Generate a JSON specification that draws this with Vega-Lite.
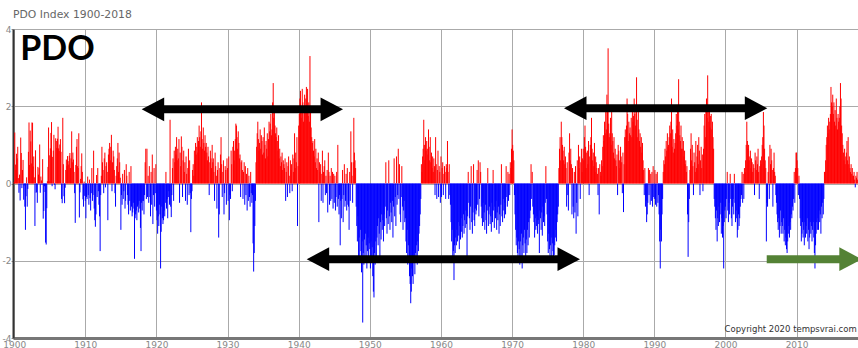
{
"$schema":"https://vega.github.io/schema/vega-lite/v6.json",
"width":845,"height":309,
"autosize":{"type":"none"},
"padding":{"left":13,"top":29,"right":0,"bottom":10},
"background":"white",
"title":{"text":"PDO Index 1900-2018","anchor":"start","frame":"group","fontSize":10.8,"font":"DejaVu Sans","fontWeight":"normal","color":"#666666","baseline":"alphabetic","offset":6,"dy":10},
"config":{"view":{"stroke":null},"font":"DejaVu Sans"},
"datasets":{"pdo":[
{"m":0,"v":0.04},{"m":1,"v":1.32},{"m":2,"v":0.49},{"m":3,"v":0.35},{"m":4,"v":0.77},{"m":5,"v":0.65},{"m":6,"v":0.95},{"m":7,"v":0.14},{"m":8,"v":-0.24},{"m":9,"v":0.23},{"m":10,"v":-0.44},{"m":11,"v":1.19},
{"m":12,"v":0.79},{"m":13,"v":-0.12},{"m":14,"v":0.35},{"m":15,"v":0.61},{"m":16,"v":-0.42},{"m":17,"v":-0.05},{"m":18,"v":-0.6},{"m":19,"v":-1.2},{"m":20,"v":-0.33},{"m":21,"v":0.16},{"m":22,"v":-0.6},{"m":23,"v":-0.14},
{"m":24,"v":0.82},{"m":25,"v":1.58},{"m":26,"v":0.48},{"m":27,"v":1.37},{"m":28,"v":1.09},{"m":29,"v":0.52},{"m":30,"v":1.58},{"m":31,"v":1.57},{"m":32,"v":0.44},{"m":33,"v":0.7},{"m":34,"v":0.16},{"m":35,"v":-1.1},
{"m":36,"v":0.86},{"m":37,"v":-0.24},{"m":38,"v":-0.22},{"m":39,"v":-0.5},{"m":40,"v":0.43},{"m":41,"v":0.23},{"m":42,"v":0.4},{"m":43,"v":1.01},{"m":44,"v":-0.24},{"m":45,"v":0.18},{"m":46,"v":0.08},{"m":47,"v":-0.03},
{"m":48,"v":0.63},{"m":49,"v":-0.91},{"m":50,"v":-0.71},{"m":51,"v":-0.07},{"m":52,"v":-0.22},{"m":53,"v":-1.53},{"m":54,"v":-1.58},{"m":55,"v":-0.64},{"m":56,"v":0.06},{"m":57,"v":0.43},{"m":58,"v":1.45},{"m":59,"v":0.06},
{"m":60,"v":0.73},{"m":61,"v":0.91},{"m":62,"v":1.31},{"m":63,"v":1.59},{"m":64,"v":-0.07},{"m":65,"v":0.69},{"m":66,"v":0.85},{"m":67,"v":1.26},{"m":68,"v":-0.03},{"m":69,"v":-0.15},{"m":70,"v":1.17},{"m":71,"v":1.1},
{"m":72,"v":0.92},{"m":73,"v":1.16},{"m":74,"v":1.47},{"m":75,"v":0.91},{"m":76,"v":0.84},{"m":77,"v":1.01},{"m":78,"v":1.15},{"m":79,"v":0.82},{"m":80,"v":-0.4},{"m":81,"v":-0.51},{"m":82,"v":1.7},{"m":83,"v":0.5},
{"m":84,"v":-0.33},{"m":85,"v":-0.51},{"m":86,"v":-0.11},{"m":87,"v":0.35},{"m":88,"v":0.62},{"m":89,"v":0.45},{"m":90,"v":0.71},{"m":91,"v":0.58},{"m":92,"v":0.49},{"m":93,"v":0.72},{"m":94,"v":0.79},{"m":95,"v":0.4},
{"m":96,"v":0.65},{"m":97,"v":1.35},{"m":98,"v":0.55},{"m":99,"v":0.8},{"m":100,"v":0.62},{"m":101,"v":0.3},{"m":102,"v":-0.25},{"m":103,"v":-1.02},{"m":104,"v":0.48},{"m":105,"v":0.95},{"m":106,"v":1.15},{"m":107,"v":0.45},
{"m":108,"v":0.4},{"m":109,"v":1.3},{"m":110,"v":-0.88},{"m":111,"v":-0.23},{"m":112,"v":0.12},{"m":113,"v":0.45},{"m":114,"v":0.78},{"m":115,"v":0.3},{"m":116,"v":-0.41},{"m":117,"v":-0.6},{"m":118,"v":0.05},{"m":119,"v":-0.32},
{"m":120,"v":-0.45},{"m":121,"v":-0.9},{"m":122,"v":-0.35},{"m":123,"v":-0.4},{"m":124,"v":0.18},{"m":125,"v":-0.3},{"m":126,"v":-0.55},{"m":127,"v":0.1},{"m":128,"v":-0.38},{"m":129,"v":-0.7},{"m":130,"v":-0.25},{"m":131,"v":0.4},
{"m":132,"v":-0.45},{"m":133,"v":-0.3},{"m":134,"v":0.85},{"m":135,"v":-0.65},{"m":136,"v":-0.95},{"m":137,"v":-1.12},{"m":138,"v":-0.8},{"m":139,"v":0.22},{"m":140,"v":-0.35},{"m":141,"v":0.4},{"m":142,"v":-0.2},{"m":143,"v":-0.55},
{"m":144,"v":-0.85},{"m":145,"v":-1.75},{"m":146,"v":-0.3},{"m":147,"v":0.2},{"m":148,"v":0.95},{"m":149,"v":0.55},{"m":150,"v":0.35},{"m":151,"v":-0.25},{"m":152,"v":0.65},{"m":153,"v":0.8},{"m":154,"v":-0.1},{"m":155,"v":0.45},
{"m":156,"v":0.55},{"m":157,"v":0.3},{"m":158,"v":-0.95},{"m":159,"v":0.75},{"m":160,"v":0.9},{"m":161,"v":1.05},{"m":162,"v":0.6},{"m":163,"v":0.95},{"m":164,"v":1.26},{"m":165,"v":-0.2},{"m":166,"v":0.55},{"m":167,"v":0.85},
{"m":168,"v":0.7},{"m":169,"v":0.35},{"m":170,"v":-0.25},{"m":171,"v":-0.6},{"m":172,"v":0.2},{"m":173,"v":0.45},{"m":174,"v":0.65},{"m":175,"v":1.05},{"m":176,"v":0.3},{"m":177,"v":0.8},{"m":178,"v":0.55},{"m":179,"v":0.15},
{"m":180,"v":-1.2},{"m":181,"v":-0.3},{"m":182,"v":-0.55},{"m":183,"v":0.25},{"m":184,"v":-0.4},{"m":185,"v":-0.2},{"m":186,"v":0.35},{"m":187,"v":-0.65},{"m":188,"v":-0.45},{"m":189,"v":0.5},{"m":190,"v":0.2},{"m":191,"v":-0.3},
{"m":192,"v":-0.55},{"m":193,"v":-0.8},{"m":194,"v":0.3},{"m":195,"v":-0.45},{"m":196,"v":-0.7},{"m":197,"v":0.45},{"m":198,"v":-0.6},{"m":199,"v":-0.85},{"m":200,"v":-0.75},{"m":201,"v":-0.5},{"m":202,"v":-0.65},{"m":203,"v":-1.95},
{"m":204,"v":-0.9},{"m":205,"v":-0.8},{"m":206,"v":-0.7},{"m":207,"v":-0.95},{"m":208,"v":-0.6},{"m":209,"v":-0.55},{"m":210,"v":-0.75},{"m":211,"v":-0.45},{"m":212,"v":-0.65},{"m":213,"v":-1.15},{"m":214,"v":-1.75},{"m":215,"v":-0.5},
{"m":216,"v":-0.7},{"m":217,"v":-0.45},{"m":218,"v":-0.45},{"m":219,"v":-0.8},{"m":220,"v":-0.3},{"m":221,"v":0.55},{"m":222,"v":0.9},{"m":223,"v":-0.4},{"m":224,"v":0.9},{"m":225,"v":-0.35},{"m":226,"v":0.2},{"m":227,"v":-0.5},
{"m":228,"v":0.45},{"m":229,"v":-0.35},{"m":230,"v":-0.85},{"m":231,"v":0.3},{"m":232,"v":-0.55},{"m":233,"v":0.75},{"m":234,"v":-1.05},{"m":235,"v":-0.3},{"m":236,"v":0.4},{"m":237,"v":-0.6},{"m":238,"v":-0.25},{"m":239,"v":0.5},
{"m":240,"v":-0.7},{"m":241,"v":-0.95},{"m":242,"v":-1.3},{"m":243,"v":-0.85},{"m":244,"v":-1.1},{"m":245,"v":-0.55},{"m":246,"v":-0.8},{"m":247,"v":-2.2},{"m":248,"v":-1.25},{"m":249,"v":-0.6},{"m":250,"v":-0.9},{"m":251,"v":-1.05},
{"m":252,"v":-0.95},{"m":253,"v":-0.7},{"m":254,"v":-0.85},{"m":255,"v":-0.5},{"m":256,"v":0.3},{"m":257,"v":-0.65},{"m":258,"v":-0.4},{"m":259,"v":-0.9},{"m":260,"v":-0.35},{"m":261,"v":-0.2},{"m":262,"v":-0.55},{"m":263,"v":1.65},
{"m":264,"v":-0.6},{"m":265,"v":-0.87},{"m":266,"v":-0.3},{"m":267,"v":0.4},{"m":268,"v":0.65},{"m":269,"v":-0.45},{"m":270,"v":0.85},{"m":271,"v":0.55},{"m":272,"v":0.95},{"m":273,"v":0.75},{"m":274,"v":1.2},{"m":275,"v":0.6},
{"m":276,"v":0.9},{"m":277,"v":0.65},{"m":278,"v":1.15},{"m":279,"v":-0.5},{"m":280,"v":0.8},{"m":281,"v":0.45},{"m":282,"v":1.22},{"m":283,"v":0.95},{"m":284,"v":-0.35},{"m":285,"v":0.6},{"m":286,"v":0.85},{"m":287,"v":0.3},
{"m":288,"v":0.55},{"m":289,"v":-0.45},{"m":290,"v":0.7},{"m":291,"v":0.25},{"m":292,"v":-0.55},{"m":293,"v":0.4},{"m":294,"v":0.9},{"m":295,"v":-0.3},{"m":296,"v":0.6},{"m":297,"v":-0.25},{"m":298,"v":-1.26},{"m":299,"v":-0.4},
{"m":300,"v":-0.2},{"m":301,"v":0.35},{"m":302,"v":0.5},{"m":303,"v":0.2},{"m":304,"v":0.85},{"m":305,"v":0.6},{"m":306,"v":1.05},{"m":307,"v":0.75},{"m":308,"v":0.95},{"m":309,"v":1.2},{"m":310,"v":0.8},{"m":311,"v":1.1},
{"m":312,"v":1.5},{"m":313,"v":1.2},{"m":314,"v":0.95},{"m":315,"v":1.35},{"m":316,"v":2.1},{"m":317,"v":1.15},{"m":318,"v":0.9},{"m":319,"v":1.45},{"m":320,"v":1.05},{"m":321,"v":0.85},{"m":322,"v":1.25},{"m":323,"v":0.95},
{"m":324,"v":1.05},{"m":325,"v":0.8},{"m":326,"v":0.6},{"m":327,"v":0.95},{"m":328,"v":0.7},{"m":329,"v":-0.3},{"m":330,"v":0.55},{"m":331,"v":0.85},{"m":332,"v":0.65},{"m":333,"v":0.4},{"m":334,"v":1.0},{"m":335,"v":0.55},
{"m":336,"v":0.65},{"m":337,"v":0.3},{"m":338,"v":-0.45},{"m":339,"v":0.8},{"m":340,"v":0.45},{"m":341,"v":0.2},{"m":342,"v":-0.65},{"m":343,"v":0.35},{"m":344,"v":0.55},{"m":345,"v":-1.4},{"m":346,"v":-0.8},{"m":347,"v":0.4},
{"m":348,"v":0.75},{"m":349,"v":1.2},{"m":350,"v":0.5},{"m":351,"v":-0.35},{"m":352,"v":0.3},{"m":353,"v":0.6},{"m":354,"v":-0.8},{"m":355,"v":-0.25},{"m":356,"v":0.45},{"m":357,"v":0.35},{"m":358,"v":-0.55},{"m":359,"v":0.65},
{"m":360,"v":0.4},{"m":361,"v":-0.45},{"m":362,"v":0.7},{"m":363,"v":-0.95},{"m":364,"v":-0.3},{"m":365,"v":-0.4},{"m":366,"v":0.85},{"m":367,"v":0.5},{"m":368,"v":-0.2},{"m":369,"v":0.95},{"m":370,"v":1.1},{"m":371,"v":0.6},
{"m":372,"v":0.85},{"m":373,"v":1.15},{"m":374,"v":1.55},{"m":375,"v":1.5},{"m":376,"v":1.2},{"m":377,"v":0.9},{"m":378,"v":1.35},{"m":379,"v":1.05},{"m":380,"v":0.65},{"m":381,"v":0.75},{"m":382,"v":-0.35},{"m":383,"v":0.55},
{"m":384,"v":0.6},{"m":385,"v":0.35},{"m":386,"v":-0.4},{"m":387,"v":0.3},{"m":388,"v":0.55},{"m":389,"v":-0.55},{"m":390,"v":0.45},{"m":391,"v":-0.3},{"m":392,"v":0.25},{"m":393,"v":-0.7},{"m":394,"v":0.4},{"m":395,"v":-0.45},
{"m":396,"v":0.2},{"m":397,"v":-0.35},{"m":398,"v":-0.6},{"m":399,"v":0.3},{"m":400,"v":-0.25},{"m":401,"v":-0.5},{"m":402,"v":-0.3},{"m":403,"v":-1.55},{"m":404,"v":-2.28},{"m":405,"v":-1.8},{"m":406,"v":-1.1},{"m":407,"v":-0.45},
{"m":408,"v":0.55},{"m":409,"v":0.95},{"m":410,"v":1.3},{"m":411,"v":1.6},{"m":412,"v":1.15},{"m":413,"v":0.85},{"m":414,"v":1.05},{"m":415,"v":1.4},{"m":416,"v":0.9},{"m":417,"v":1.25},{"m":418,"v":1.1},{"m":419,"v":0.75},
{"m":420,"v":1.2},{"m":421,"v":0.8},{"m":422,"v":1.45},{"m":423,"v":1.0},{"m":424,"v":0.65},{"m":425,"v":1.1},{"m":426,"v":0.9},{"m":427,"v":1.3},{"m":428,"v":0.7},{"m":429,"v":1.15},{"m":430,"v":1.6},{"m":431,"v":1.35},
{"m":432,"v":1.55},{"m":433,"v":1.8},{"m":434,"v":1.25},{"m":435,"v":1.4},{"m":436,"v":2.1},{"m":437,"v":2.6},{"m":438,"v":1.7},{"m":439,"v":1.95},{"m":440,"v":1.5},{"m":441,"v":1.3},{"m":442,"v":1.2},{"m":443,"v":1.45},
{"m":444,"v":1.1},{"m":445,"v":0.85},{"m":446,"v":1.25},{"m":447,"v":0.65},{"m":448,"v":0.9},{"m":449,"v":0.45},{"m":450,"v":0.7},{"m":451,"v":0.55},{"m":452,"v":0.8},{"m":453,"v":0.35},{"m":454,"v":0.6},{"m":455,"v":0.5},
{"m":456,"v":0.4},{"m":457,"v":0.65},{"m":458,"v":-0.45},{"m":459,"v":0.3},{"m":460,"v":0.55},{"m":461,"v":-0.35},{"m":462,"v":0.45},{"m":463,"v":0.7},{"m":464,"v":0.2},{"m":465,"v":-0.25},{"m":466,"v":0.6},{"m":467,"v":0.35},
{"m":468,"v":0.5},{"m":469,"v":-0.2},{"m":470,"v":0.75},{"m":471,"v":0.3},{"m":472,"v":0.65},{"m":473,"v":1.3},{"m":474,"v":0.4},{"m":475,"v":0.8},{"m":476,"v":0.55},{"m":477,"v":1.2},{"m":478,"v":-1.1},{"m":479,"v":0.45},
{"m":480,"v":1.5},{"m":481,"v":1.8},{"m":482,"v":2.2},{"m":483,"v":2.4},{"m":484,"v":1.7},{"m":485,"v":1.95},{"m":486,"v":2.45},{"m":487,"v":2.1},{"m":488,"v":1.6},{"m":489,"v":1.85},{"m":490,"v":2.3},{"m":491,"v":2.0},
{"m":492,"v":2.2},{"m":493,"v":2.5},{"m":494,"v":1.9},{"m":495,"v":2.45},{"m":496,"v":1.75},{"m":497,"v":2.1},{"m":498,"v":1.6},{"m":499,"v":3.3},{"m":500,"v":2.0},{"m":501,"v":1.45},{"m":502,"v":1.2},{"m":503,"v":1.05},
{"m":504,"v":1.1},{"m":505,"v":0.85},{"m":506,"v":0.7},{"m":507,"v":1.15},{"m":508,"v":0.55},{"m":509,"v":0.9},{"m":510,"v":0.4},{"m":511,"v":0.65},{"m":512,"v":0.35},{"m":513,"v":0.8},{"m":514,"v":-1.0},{"m":515,"v":0.55},
{"m":516,"v":0.3},{"m":517,"v":0.5},{"m":518,"v":-0.45},{"m":519,"v":0.25},{"m":520,"v":0.85},{"m":521,"v":-0.5},{"m":522,"v":0.3},{"m":523,"v":0.45},{"m":524,"v":0.6},{"m":525,"v":-0.3},{"m":526,"v":0.2},{"m":527,"v":-0.25},
{"m":528,"v":0.35},{"m":529,"v":-0.75},{"m":530,"v":0.8},{"m":531,"v":0.3},{"m":532,"v":-0.55},{"m":533,"v":0.2},{"m":534,"v":-0.45},{"m":535,"v":0.4},{"m":536,"v":-0.4},{"m":537,"v":0.3},{"m":538,"v":-0.65},{"m":539,"v":0.25},
{"m":540,"v":-0.5},{"m":541,"v":0.2},{"m":542,"v":-0.7},{"m":543,"v":-0.35},{"m":544,"v":0.3},{"m":545,"v":-0.6},{"m":546,"v":1.0},{"m":547,"v":-0.4},{"m":548,"v":-0.8},{"m":549,"v":-0.3},{"m":550,"v":-1.6},{"m":551,"v":-0.45},
{"m":552,"v":-0.9},{"m":553,"v":-0.4},{"m":554,"v":0.35},{"m":555,"v":-1.0},{"m":556,"v":-0.3},{"m":557,"v":0.5},{"m":558,"v":-0.6},{"m":559,"v":-0.45},{"m":560,"v":0.25},{"m":561,"v":-0.7},{"m":562,"v":0.4},{"m":563,"v":-0.55},
{"m":564,"v":-0.6},{"m":565,"v":-1.2},{"m":566,"v":0.3},{"m":567,"v":-0.45},{"m":568,"v":1.35},{"m":569,"v":0.55},{"m":570,"v":0.2},{"m":571,"v":-0.5},{"m":572,"v":0.55},{"m":573,"v":1.7},{"m":574,"v":0.8},{"m":575,"v":0.6},
{"m":576,"v":0.4},{"m":577,"v":-0.6},{"m":578,"v":-1.1},{"m":579,"v":-1.5},{"m":580,"v":-0.85},{"m":581,"v":-1.95},{"m":582,"v":-1.4},{"m":583,"v":-2.05},{"m":584,"v":-1.2},{"m":585,"v":-1.75},{"m":586,"v":-2.3},{"m":587,"v":-1.5},
{"m":588,"v":-3.6},{"m":589,"v":-1.8},{"m":590,"v":-2.1},{"m":591,"v":-1.45},{"m":592,"v":-1.9},{"m":593,"v":-1.3},{"m":594,"v":-1.6},{"m":595,"v":-2.2},{"m":596,"v":-1.75},{"m":597,"v":-1.4},{"m":598,"v":-2.0},{"m":599,"v":-1.55},
{"m":600,"v":-1.7},{"m":601,"v":-2.2},{"m":602,"v":-1.5},{"m":603,"v":-2.0},{"m":604,"v":-1.65},{"m":605,"v":-2.4},{"m":606,"v":-2.8},{"m":607,"v":-2.95},{"m":608,"v":-1.8},{"m":609,"v":-2.1},{"m":610,"v":-1.5},{"m":611,"v":-1.9},
{"m":612,"v":-1.4},{"m":613,"v":-1.1},{"m":614,"v":-1.6},{"m":615,"v":-0.9},{"m":616,"v":-1.3},{"m":617,"v":-2.0},{"m":618,"v":-1.0},{"m":619,"v":-1.45},{"m":620,"v":-0.8},{"m":621,"v":-1.2},{"m":622,"v":-0.95},{"m":623,"v":-1.5},
{"m":624,"v":-0.8},{"m":625,"v":-1.1},{"m":626,"v":-0.6},{"m":627,"v":0.55},{"m":628,"v":-0.9},{"m":629,"v":-1.3},{"m":630,"v":-0.7},{"m":631,"v":-1.05},{"m":632,"v":0.6},{"m":633,"v":-0.85},{"m":634,"v":-1.2},{"m":635,"v":-0.5},
{"m":636,"v":-0.75},{"m":637,"v":-1.0},{"m":638,"v":-0.45},{"m":639,"v":-1.4},{"m":640,"v":-0.6},{"m":641,"v":0.65},{"m":642,"v":-0.85},{"m":643,"v":-0.35},{"m":644,"v":-1.1},{"m":645,"v":0.7},{"m":646,"v":-0.55},{"m":647,"v":-0.3},
{"m":648,"v":0.9},{"m":649,"v":-0.4},{"m":650,"v":0.5},{"m":651,"v":-0.8},{"m":652,"v":-1.0},{"m":653,"v":-0.35},{"m":654,"v":0.45},{"m":655,"v":-0.6},{"m":656,"v":-1.2},{"m":657,"v":-0.7},{"m":658,"v":-0.45},{"m":659,"v":-1.0},
{"m":660,"v":-0.9},{"m":661,"v":-1.5},{"m":662,"v":-1.8},{"m":663,"v":-1.2},{"m":664,"v":-2.1},{"m":665,"v":-1.6},{"m":666,"v":-1.9},{"m":667,"v":-2.4},{"m":668,"v":-2.6},{"m":669,"v":-3.1},{"m":670,"v":-2.8},{"m":671,"v":-2.2},
{"m":672,"v":-2.4},{"m":673,"v":-2.6},{"m":674,"v":-2.0},{"m":675,"v":-1.9},{"m":676,"v":-2.35},{"m":677,"v":-1.8},{"m":678,"v":-2.0},{"m":679,"v":-1.6},{"m":680,"v":-2.1},{"m":681,"v":-1.5},{"m":682,"v":-1.75},{"m":683,"v":-1.3},
{"m":684,"v":-1.1},{"m":685,"v":-0.8},{"m":686,"v":-0.4},{"m":687,"v":0.5},{"m":688,"v":0.3},{"m":689,"v":0.7},{"m":690,"v":0.9},{"m":691,"v":1.65},{"m":692,"v":1.0},{"m":693,"v":0.6},{"m":694,"v":1.2},{"m":695,"v":0.85},
{"m":696,"v":1.1},{"m":697,"v":0.9},{"m":698,"v":0.75},{"m":699,"v":1.4},{"m":700,"v":0.95},{"m":701,"v":0.6},{"m":702,"v":1.2},{"m":703,"v":0.55},{"m":704,"v":0.8},{"m":705,"v":0.4},{"m":706,"v":0.7},{"m":707,"v":0.3},
{"m":708,"v":0.65},{"m":709,"v":0.45},{"m":710,"v":-0.3},{"m":711,"v":1.2},{"m":712,"v":0.5},{"m":713,"v":-0.4},{"m":714,"v":0.35},{"m":715,"v":0.85},{"m":716,"v":-0.35},{"m":717,"v":0.45},{"m":718,"v":0.3},{"m":719,"v":-0.5},
{"m":720,"v":0.7},{"m":721,"v":-0.35},{"m":722,"v":0.4},{"m":723,"v":0.55},{"m":724,"v":-0.3},{"m":725,"v":0.25},{"m":726,"v":0.45},{"m":727,"v":0.3},{"m":728,"v":-0.4},{"m":729,"v":0.5},{"m":730,"v":0.4},{"m":731,"v":1.1},
{"m":732,"v":0.3},{"m":733,"v":-0.4},{"m":734,"v":0.5},{"m":735,"v":-0.3},{"m":736,"v":-0.55},{"m":737,"v":-1.0},{"m":738,"v":-1.5},{"m":739,"v":-1.2},{"m":740,"v":-2.0},{"m":741,"v":-1.75},{"m":742,"v":-2.5},{"m":743,"v":-1.6},
{"m":744,"v":-1.8},{"m":745,"v":-1.4},{"m":746,"v":-1.6},{"m":747,"v":-1.2},{"m":748,"v":-1.5},{"m":749,"v":-1.0},{"m":750,"v":-1.35},{"m":751,"v":-1.7},{"m":752,"v":-1.1},{"m":753,"v":-1.45},{"m":754,"v":-0.9},{"m":755,"v":-1.25},
{"m":756,"v":-1.4},{"m":757,"v":-1.1},{"m":758,"v":-0.8},{"m":759,"v":-1.3},{"m":760,"v":-0.95},{"m":761,"v":-1.15},{"m":762,"v":-0.7},{"m":763,"v":-1.05},{"m":764,"v":-1.9},{"m":765,"v":-0.85},{"m":766,"v":0.3},{"m":767,"v":-0.5},
{"m":768,"v":-0.9},{"m":769,"v":-1.2},{"m":770,"v":-0.6},{"m":771,"v":0.45},{"m":772,"v":-1.0},{"m":773,"v":-1.3},{"m":774,"v":-0.75},{"m":775,"v":0.5},{"m":776,"v":-0.95},{"m":777,"v":-1.1},{"m":778,"v":-0.65},{"m":779,"v":-0.8},
{"m":780,"v":-0.7},{"m":781,"v":0.35},{"m":782,"v":-0.55},{"m":783,"v":0.6},{"m":784,"v":-0.85},{"m":785,"v":-0.4},{"m":786,"v":0.55},{"m":787,"v":0.3},{"m":788,"v":-0.6},{"m":789,"v":-0.9},{"m":790,"v":-1.1},{"m":791,"v":-0.5},
{"m":792,"v":-1.0},{"m":793,"v":-0.75},{"m":794,"v":-1.2},{"m":795,"v":-0.55},{"m":796,"v":-0.95},{"m":797,"v":-1.3},{"m":798,"v":-0.7},{"m":799,"v":0.4},{"m":800,"v":-1.1},{"m":801,"v":-0.8},{"m":802,"v":-0.6},{"m":803,"v":-1.05},
{"m":804,"v":-0.85},{"m":805,"v":-1.25},{"m":806,"v":-0.5},{"m":807,"v":-1.0},{"m":808,"v":0.35},{"m":809,"v":-0.7},{"m":810,"v":-1.15},{"m":811,"v":-0.6},{"m":812,"v":-0.9},{"m":813,"v":-0.45},{"m":814,"v":-1.2},{"m":815,"v":-0.75},
{"m":816,"v":-0.95},{"m":817,"v":-0.6},{"m":818,"v":-1.3},{"m":819,"v":-0.8},{"m":820,"v":-1.1},{"m":821,"v":-0.55},{"m":822,"v":0.5},{"m":823,"v":-0.85},{"m":824,"v":-1.0},{"m":825,"v":-0.4},{"m":826,"v":-0.7},{"m":827,"v":-0.9},
{"m":828,"v":-0.5},{"m":829,"v":-0.8},{"m":830,"v":0.45},{"m":831,"v":-0.35},{"m":832,"v":-0.6},{"m":833,"v":0.3},{"m":834,"v":-0.45},{"m":835,"v":0.25},{"m":836,"v":-0.3},{"m":837,"v":0.55},{"m":838,"v":0.4},{"m":839,"v":0.9},
{"m":840,"v":1.4},{"m":841,"v":1.0},{"m":842,"v":0.85},{"m":843,"v":0.6},{"m":844,"v":-0.3},{"m":845,"v":-0.8},{"m":846,"v":-1.2},{"m":847,"v":-1.6},{"m":848,"v":-1.4},{"m":849,"v":-1.8},{"m":850,"v":-2.0},{"m":851,"v":-1.5},
{"m":852,"v":-1.7},{"m":853,"v":-2.1},{"m":854,"v":-1.5},{"m":855,"v":-1.9},{"m":856,"v":-1.3},{"m":857,"v":-2.2},{"m":858,"v":-1.6},{"m":859,"v":-1.4},{"m":860,"v":-1.8},{"m":861,"v":-1.2},{"m":862,"v":-1.55},{"m":863,"v":-1.9},
{"m":864,"v":-1.45},{"m":865,"v":-1.8},{"m":866,"v":-1.2},{"m":867,"v":-1.6},{"m":868,"v":-1.0},{"m":869,"v":-1.4},{"m":870,"v":-0.9},{"m":871,"v":-0.7},{"m":872,"v":0.5},{"m":873,"v":-0.4},{"m":874,"v":0.3},{"m":875,"v":-0.6},
{"m":876,"v":-0.8},{"m":877,"v":-1.0},{"m":878,"v":-1.4},{"m":879,"v":-0.9},{"m":880,"v":-1.2},{"m":881,"v":-1.1},{"m":882,"v":-0.85},{"m":883,"v":-1.3},{"m":884,"v":-0.95},{"m":885,"v":-1.05},{"m":886,"v":-1.8},{"m":887,"v":-0.7},
{"m":888,"v":-0.9},{"m":889,"v":-1.2},{"m":890,"v":-0.75},{"m":891,"v":-1.35},{"m":892,"v":-0.6},{"m":893,"v":-1.0},{"m":894,"v":-0.85},{"m":895,"v":-1.1},{"m":896,"v":-0.5},{"m":897,"v":0.45},{"m":898,"v":-0.4},{"m":899,"v":-0.8},
{"m":900,"v":-1.5},{"m":901,"v":-1.8},{"m":902,"v":-1.3},{"m":903,"v":-1.7},{"m":904,"v":-2.0},{"m":905,"v":-1.6},{"m":906,"v":-1.4},{"m":907,"v":-1.9},{"m":908,"v":-1.55},{"m":909,"v":-1.75},{"m":910,"v":-2.05},{"m":911,"v":-1.85},
{"m":912,"v":-1.6},{"m":913,"v":-1.4},{"m":914,"v":-1.2},{"m":915,"v":-1.5},{"m":916,"v":-1.0},{"m":917,"v":-0.8},{"m":918,"v":-0.6},{"m":919,"v":0.4},{"m":920,"v":0.9},{"m":921,"v":1.2},{"m":922,"v":0.6},{"m":923,"v":1.6},
{"m":924,"v":1.2},{"m":925,"v":1.0},{"m":926,"v":0.85},{"m":927,"v":0.6},{"m":928,"v":0.95},{"m":929,"v":0.5},{"m":930,"v":0.7},{"m":931,"v":0.4},{"m":932,"v":-0.6},{"m":933,"v":0.55},{"m":934,"v":-0.3},{"m":935,"v":-0.7},
{"m":936,"v":0.8},{"m":937,"v":1.3},{"m":938,"v":0.6},{"m":939,"v":0.9},{"m":940,"v":0.5},{"m":941,"v":-0.8},{"m":942,"v":0.4},{"m":943,"v":-0.6},{"m":944,"v":-0.9},{"m":945,"v":0.3},{"m":946,"v":-0.75},{"m":947,"v":0.45},
{"m":948,"v":-1.3},{"m":949,"v":-0.5},{"m":950,"v":0.6},{"m":951,"v":-0.85},{"m":952,"v":1.0},{"m":953,"v":0.4},{"m":954,"v":0.7},{"m":955,"v":-0.4},{"m":956,"v":0.55},{"m":957,"v":0.9},{"m":958,"v":0.3},{"m":959,"v":0.65},
{"m":960,"v":0.9},{"m":961,"v":0.6},{"m":962,"v":1.2},{"m":963,"v":1.5},{"m":964,"v":0.95},{"m":965,"v":0.4},{"m":966,"v":0.8},{"m":967,"v":0.85},{"m":968,"v":0.5},{"m":969,"v":1.1},{"m":970,"v":-0.3},{"m":971,"v":0.7},
{"m":972,"v":1.0},{"m":973,"v":1.2},{"m":974,"v":1.7},{"m":975,"v":0.9},{"m":976,"v":0.6},{"m":977,"v":0.8},{"m":978,"v":0.45},{"m":979,"v":1.05},{"m":980,"v":0.3},{"m":981,"v":0.7},{"m":982,"v":0.55},{"m":983,"v":0.4},
{"m":984,"v":0.25},{"m":985,"v":-0.3},{"m":986,"v":0.4},{"m":987,"v":-0.8},{"m":988,"v":0.5},{"m":989,"v":0.3},{"m":990,"v":0.2},{"m":991,"v":0.6},{"m":992,"v":0.45},{"m":993,"v":0.95},{"m":994,"v":1.25},{"m":995,"v":1.1},
{"m":996,"v":1.6},{"m":997,"v":1.3},{"m":998,"v":1.85},{"m":999,"v":1.4},{"m":1000,"v":2.3},{"m":1001,"v":1.9},{"m":1002,"v":3.5},{"m":1003,"v":1.55},{"m":1004,"v":1.2},{"m":1005,"v":1.3},{"m":1006,"v":1.7},{"m":1007,"v":1.0},
{"m":1008,"v":1.85},{"m":1009,"v":1.3},{"m":1010,"v":1.1},{"m":1011,"v":0.8},{"m":1012,"v":1.2},{"m":1013,"v":0.65},{"m":1014,"v":0.9},{"m":1015,"v":0.6},{"m":1016,"v":0.45},{"m":1017,"v":0.75},{"m":1018,"v":-0.3},{"m":1019,"v":1.0},
{"m":1020,"v":0.85},{"m":1021,"v":0.6},{"m":1022,"v":0.4},{"m":1023,"v":0.95},{"m":1024,"v":0.7},{"m":1025,"v":0.55},{"m":1026,"v":-0.25},{"m":1027,"v":0.8},{"m":1028,"v":-0.74},{"m":1029,"v":0.5},{"m":1030,"v":1.2},{"m":1031,"v":1.4},
{"m":1032,"v":1.2},{"m":1033,"v":1.5},{"m":1034,"v":2.2},{"m":1035,"v":1.8},{"m":1036,"v":1.1},{"m":1037,"v":1.6},{"m":1038,"v":1.3},{"m":1039,"v":1.45},{"m":1040,"v":1.25},{"m":1041,"v":1.7},{"m":1042,"v":1.2},{"m":1043,"v":1.9},
{"m":1044,"v":1.6},{"m":1045,"v":1.75},{"m":1046,"v":2.2},{"m":1047,"v":1.8},{"m":1048,"v":1.5},{"m":1049,"v":1.95},{"m":1050,"v":2.75},{"m":1051,"v":1.65},{"m":1052,"v":1.2},{"m":1053,"v":1.85},{"m":1054,"v":1.4},{"m":1055,"v":1.1},
{"m":1056,"v":1.3},{"m":1057,"v":0.95},{"m":1058,"v":1.2},{"m":1059,"v":0.8},{"m":1060,"v":1.05},{"m":1061,"v":0.6},{"m":1062,"v":0.35},{"m":1063,"v":-0.3},{"m":1064,"v":0.4},{"m":1065,"v":-0.6},{"m":1066,"v":-0.45},{"m":1067,"v":-1.0},
{"m":1068,"v":-0.8},{"m":1069,"v":-0.5},{"m":1070,"v":0.4},{"m":1071,"v":-0.3},{"m":1072,"v":0.35},{"m":1073,"v":-0.55},{"m":1074,"v":0.25},{"m":1075,"v":-0.45},{"m":1076,"v":0.3},{"m":1077,"v":-0.6},{"m":1078,"v":0.45},{"m":1079,"v":-0.35},
{"m":1080,"v":-0.4},{"m":1081,"v":0.35},{"m":1082,"v":-0.55},{"m":1083,"v":0.25},{"m":1084,"v":-0.6},{"m":1085,"v":0.3},{"m":1086,"v":-0.5},{"m":1087,"v":-0.3},{"m":1088,"v":-0.8},{"m":1089,"v":-1.5},{"m":1090,"v":-2.2},{"m":1091,"v":-1.2},
{"m":1092,"v":-1.5},{"m":1093,"v":-0.8},{"m":1094,"v":-0.4},{"m":1095,"v":0.3},{"m":1096,"v":0.6},{"m":1097,"v":0.5},{"m":1098,"v":0.9},{"m":1099,"v":0.7},{"m":1100,"v":1.1},{"m":1101,"v":0.85},{"m":1102,"v":1.3},{"m":1103,"v":0.95},
{"m":1104,"v":1.0},{"m":1105,"v":1.2},{"m":1106,"v":1.5},{"m":1107,"v":1.3},{"m":1108,"v":1.6},{"m":1109,"v":2.2},{"m":1110,"v":0.95},{"m":1111,"v":1.4},{"m":1112,"v":0.8},{"m":1113,"v":1.15},{"m":1114,"v":0.9},{"m":1115,"v":1.05},
{"m":1116,"v":1.3},{"m":1117,"v":1.8},{"m":1118,"v":1.5},{"m":1119,"v":1.95},{"m":1120,"v":1.4},{"m":1121,"v":2.7},{"m":1122,"v":1.6},{"m":1123,"v":1.25},{"m":1124,"v":1.1},{"m":1125,"v":1.5},{"m":1126,"v":0.9},{"m":1127,"v":1.2},
{"m":1128,"v":0.9},{"m":1129,"v":1.1},{"m":1130,"v":0.7},{"m":1131,"v":0.85},{"m":1132,"v":0.5},{"m":1133,"v":0.6},{"m":1134,"v":0.3},{"m":1135,"v":0.45},{"m":1136,"v":-0.8},{"m":1137,"v":-1.9},{"m":1138,"v":-1.0},{"m":1139,"v":-0.4},
{"m":1140,"v":0.35},{"m":1141,"v":0.9},{"m":1142,"v":1.3},{"m":1143,"v":0.6},{"m":1144,"v":1.0},{"m":1145,"v":0.45},{"m":1146,"v":-0.3},{"m":1147,"v":0.8},{"m":1148,"v":0.55},{"m":1149,"v":0.3},{"m":1150,"v":1.1},{"m":1151,"v":0.4},
{"m":1152,"v":0.7},{"m":1153,"v":1.0},{"m":1154,"v":0.5},{"m":1155,"v":1.2},{"m":1156,"v":0.85},{"m":1157,"v":-0.3},{"m":1158,"v":0.6},{"m":1159,"v":0.95},{"m":1160,"v":0.4},{"m":1161,"v":0.75},{"m":1162,"v":-0.2},{"m":1163,"v":0.9},
{"m":1164,"v":1.5},{"m":1165,"v":1.8},{"m":1166,"v":1.2},{"m":1167,"v":1.95},{"m":1168,"v":2.2},{"m":1169,"v":1.7},{"m":1170,"v":2.8},{"m":1171,"v":1.9},{"m":1172,"v":1.6},{"m":1173,"v":2.0},{"m":1174,"v":1.45},{"m":1175,"v":1.75},
{"m":1176,"v":1.8},{"m":1177,"v":1.4},{"m":1178,"v":1.6},{"m":1179,"v":1.2},{"m":1180,"v":0.9},{"m":1181,"v":-0.4},{"m":1182,"v":-0.6},{"m":1183,"v":-0.9},{"m":1184,"v":-1.2},{"m":1185,"v":-0.7},{"m":1186,"v":-1.5},{"m":1187,"v":-0.9},
{"m":1188,"v":-1.1},{"m":1189,"v":-0.6},{"m":1190,"v":-1.0},{"m":1191,"v":-0.8},{"m":1192,"v":-0.5},{"m":1193,"v":-1.3},{"m":1194,"v":-0.9},{"m":1195,"v":-1.4},{"m":1196,"v":-1.1},{"m":1197,"v":-2.2},{"m":1198,"v":-1.0},{"m":1199,"v":-0.7},
{"m":1200,"v":-0.6},{"m":1201,"v":-0.9},{"m":1202,"v":-0.4},{"m":1203,"v":0.3},{"m":1204,"v":-0.7},{"m":1205,"v":-1.0},{"m":1206,"v":-0.5},{"m":1207,"v":-0.8},{"m":1208,"v":0.25},{"m":1209,"v":-0.4},{"m":1210,"v":-0.9},{"m":1211,"v":-1.1},
{"m":1212,"v":-0.6},{"m":1213,"v":-0.4},{"m":1214,"v":-0.8},{"m":1215,"v":0.25},{"m":1216,"v":-0.5},{"m":1217,"v":-1.0},{"m":1218,"v":-0.7},{"m":1219,"v":-0.9},{"m":1220,"v":-1.4},{"m":1221,"v":-1.2},{"m":1222,"v":-0.8},{"m":1223,"v":-1.1},
{"m":1224,"v":-0.9},{"m":1225,"v":-0.6},{"m":1226,"v":-0.4},{"m":1227,"v":-0.3},{"m":1228,"v":0.3},{"m":1229,"v":-0.5},{"m":1230,"v":0.25},{"m":1231,"v":-0.4},{"m":1232,"v":0.4},{"m":1233,"v":0.3},{"m":1234,"v":0.6},{"m":1235,"v":1.0},
{"m":1236,"v":1.6},{"m":1237,"v":1.1},{"m":1238,"v":0.9},{"m":1239,"v":1.0},{"m":1240,"v":0.6},{"m":1241,"v":0.7},{"m":1242,"v":0.85},{"m":1243,"v":0.4},{"m":1244,"v":0.65},{"m":1245,"v":0.55},{"m":1246,"v":0.3},{"m":1247,"v":0.5},
{"m":1248,"v":0.4},{"m":1249,"v":-0.3},{"m":1250,"v":0.8},{"m":1251,"v":0.6},{"m":1252,"v":0.35},{"m":1253,"v":0.7},{"m":1254,"v":0.5},{"m":1255,"v":0.9},{"m":1256,"v":0.3},{"m":1257,"v":-0.4},{"m":1258,"v":0.45},{"m":1259,"v":0.6},
{"m":1260,"v":0.5},{"m":1261,"v":0.7},{"m":1262,"v":1.0},{"m":1263,"v":1.2},{"m":1264,"v":1.85},{"m":1265,"v":1.5},{"m":1266,"v":0.9},{"m":1267,"v":0.6},{"m":1268,"v":0.4},{"m":1269,"v":-1.5},{"m":1270,"v":-0.5},{"m":1271,"v":-0.6},
{"m":1272,"v":0.3},{"m":1273,"v":0.7},{"m":1274,"v":-0.4},{"m":1275,"v":1.0},{"m":1276,"v":0.5},{"m":1277,"v":0.9},{"m":1278,"v":0.6},{"m":1279,"v":0.35},{"m":1280,"v":-0.6},{"m":1281,"v":0.4},{"m":1282,"v":0.8},{"m":1283,"v":0.3},
{"m":1284,"v":0.2},{"m":1285,"v":-0.3},{"m":1286,"v":-0.5},{"m":1287,"v":-0.8},{"m":1288,"v":-1.0},{"m":1289,"v":-1.2},{"m":1290,"v":-0.9},{"m":1291,"v":-1.4},{"m":1292,"v":-1.1},{"m":1293,"v":-0.7},{"m":1294,"v":-1.3},{"m":1295,"v":-1.0},
{"m":1296,"v":-1.1},{"m":1297,"v":-1.3},{"m":1298,"v":-0.9},{"m":1299,"v":-1.5},{"m":1300,"v":-1.2},{"m":1301,"v":-1.6},{"m":1302,"v":-1.4},{"m":1303,"v":-1.7},{"m":1304,"v":-1.8},{"m":1305,"v":-1.5},{"m":1306,"v":-1.3},{"m":1307,"v":-1.1},
{"m":1308,"v":-1.4},{"m":1309,"v":-1.0},{"m":1310,"v":-1.2},{"m":1311,"v":-0.8},{"m":1312,"v":-0.9},{"m":1313,"v":-0.6},{"m":1314,"v":-0.7},{"m":1315,"v":-0.4},{"m":1316,"v":0.3},{"m":1317,"v":-0.5},{"m":1318,"v":0.4},{"m":1319,"v":0.8},
{"m":1320,"v":0.8},{"m":1321,"v":0.6},{"m":1322,"v":0.4},{"m":1323,"v":-0.3},{"m":1324,"v":0.2},{"m":1325,"v":-0.4},{"m":1326,"v":-0.9},{"m":1327,"v":-1.1},{"m":1328,"v":-1.5},{"m":1329,"v":-1.3},{"m":1330,"v":-1.0},{"m":1331,"v":-1.4},
{"m":1332,"v":-1.2},{"m":1333,"v":-1.6},{"m":1334,"v":-1.0},{"m":1335,"v":-1.4},{"m":1336,"v":-1.1},{"m":1337,"v":-1.3},{"m":1338,"v":-0.9},{"m":1339,"v":-1.5},{"m":1340,"v":-1.2},{"m":1341,"v":-1.7},{"m":1342,"v":-1.4},{"m":1343,"v":-1.0},
{"m":1344,"v":-1.3},{"m":1345,"v":-1.1},{"m":1346,"v":-1.5},{"m":1347,"v":-1.2},{"m":1348,"v":-1.0},{"m":1349,"v":-1.4},{"m":1350,"v":-1.8},{"m":1351,"v":-2.2},{"m":1352,"v":-1.6},{"m":1353,"v":-1.3},{"m":1354,"v":-1.0},{"m":1355,"v":-1.2},
{"m":1356,"v":-0.9},{"m":1357,"v":-1.2},{"m":1358,"v":-0.7},{"m":1359,"v":-1.0},{"m":1360,"v":-0.8},{"m":1361,"v":-1.3},{"m":1362,"v":-0.6},{"m":1363,"v":-0.9},{"m":1364,"v":-0.5},{"m":1365,"v":-0.8},{"m":1366,"v":-0.4},{"m":1367,"v":0.3},
{"m":1368,"v":0.3},{"m":1369,"v":0.6},{"m":1370,"v":1.0},{"m":1371,"v":1.2},{"m":1372,"v":1.5},{"m":1373,"v":1.3},{"m":1374,"v":1.7},{"m":1375,"v":1.4},{"m":1376,"v":1.6},{"m":1377,"v":1.8},{"m":1378,"v":2.5},{"m":1379,"v":2.1},
{"m":1380,"v":2.0},{"m":1381,"v":2.3},{"m":1382,"v":1.8},{"m":1383,"v":2.1},{"m":1384,"v":1.6},{"m":1385,"v":1.9},{"m":1386,"v":1.5},{"m":1387,"v":2.2},{"m":1388,"v":1.7},{"m":1389,"v":1.4},{"m":1390,"v":1.8},{"m":1391,"v":1.6},
{"m":1392,"v":1.7},{"m":1393,"v":2.0},{"m":1394,"v":2.6},{"m":1395,"v":2.2},{"m":1396,"v":1.5},{"m":1397,"v":1.3},{"m":1398,"v":1.0},{"m":1399,"v":0.8},{"m":1400,"v":0.6},{"m":1401,"v":0.9},{"m":1402,"v":0.5},{"m":1403,"v":0.7},
{"m":1404,"v":0.8},{"m":1405,"v":1.1},{"m":1406,"v":0.6},{"m":1407,"v":1.2},{"m":1408,"v":0.5},{"m":1409,"v":0.7},{"m":1410,"v":0.4},{"m":1411,"v":0.3},{"m":1412,"v":0.5},{"m":1413,"v":0.25},{"m":1414,"v":0.4},{"m":1415,"v":0.2},
{"m":1416,"v":0.2},{"m":1417,"v":0.3},{"m":1418,"v":0.1},{"m":1419,"v":-0.1},{"m":1420,"v":0.2},{"m":1421,"v":0.15},{"m":1422,"v":0.3},{"m":1423,"v":0.1}
]},
"layer":[
{"data":{"name":"pdo"},
 "mark":{"type":"rule","strokeWidth":1},
 "encoding":{
  "x":{"field":"m","type":"quantitative","scale":{"domain":[-2,1423.6],"nice":false,"zero":false},
   "axis":{"values":[0,120,240,360,480,600,720,840,960,1080,1200,1320],"labelExpr":"1900 + datum.value / 12","title":null,"grid":true,"gridColor":"#aaaaaa","gridWidth":1,"domainColor":"#777777","domainWidth":3,"ticks":false,"labelFontSize":9,"labelColor":"#888888","labelPadding":2,"labelFlush":false,"labelFont":"DejaVu Sans"}},
  "y":{"field":"v","type":"quantitative","scale":{"domain":[-4,4],"nice":false},
   "axis":{"values":[-4,-3,-2,-1,0,1,2,3,4],"labelExpr":"datum.value < 0 ? '-' + abs(datum.value) : '' + datum.value","title":null,"grid":true,"gridColor":"#aaaaaa","gridWidth":1,"domainColor":"#333333","domainWidth":2,"ticks":true,"tickSize":2,"tickColor":"#999999","labelFontSize":9,"labelColor":"#888888","labelPadding":0,"labelFlush":false,"labelFont":"DejaVu Sans"}},
  "y2":{"datum":0},
  "color":{"condition":{"test":"datum.v >= 0","value":"#ff0000"},"value":"#0000ff"}
 }},
{"data":{"values":[{"a":215.1,"b":554.8,"y":1.92},{"a":493.5,"b":954.6,"y":-1.96},{"a":927.6,"b":1270.6,"y":1.95}]},
 "layer":[
  {"mark":{"type":"rule","strokeWidth":8,"color":"#000000","xOffset":20,"x2Offset":-20},
   "encoding":{"x":{"field":"a","type":"quantitative"},"x2":{"field":"b"},"y":{"field":"y","type":"quantitative"}}},
  {"mark":{"type":"point","shape":"M0,0L1.9,-1L1.9,1Z","size":560,"filled":true,"color":"#000000","opacity":1,"strokeWidth":0},
   "encoding":{"x":{"field":"a","type":"quantitative"},"y":{"field":"y","type":"quantitative"}}},
  {"mark":{"type":"point","shape":"M0,0L-1.9,-1L-1.9,1Z","size":560,"filled":true,"color":"#000000","opacity":1,"strokeWidth":0},
   "encoding":{"x":{"field":"b","type":"quantitative"},"y":{"field":"y","type":"quantitative"}}}
 ]},
{"data":{"values":[{"a":1269.6,"b":1430,"y":-1.96}]},
 "layer":[
  {"mark":{"type":"rule","strokeWidth":8,"color":"#548235","x2Offset":-20},
   "encoding":{"x":{"field":"a","type":"quantitative"},"x2":{"field":"b"},"y":{"field":"y","type":"quantitative"}}},
  {"mark":{"type":"point","shape":"M0,0L-1.9,-1L-1.9,1Z","size":560,"filled":true,"color":"#548235","opacity":1,"strokeWidth":0},
   "encoding":{"x":{"field":"b","type":"quantitative"},"y":{"field":"y","type":"quantitative"}}}
 ]},
{"data":{"values":[{"label":"PDO"}]},
 "mark":{"type":"text","font":"Lato","fontWeight":"bold","fontSize":34,"align":"left","baseline":"alphabetic","color":"#000000"},
 "encoding":{"x":{"datum":10.3},"y":{"datum":3.2},"text":{"field":"label"}}},
{"data":{"values":[{"label":"Copyright 2020 tempsvrai.com"}]},
 "mark":{"type":"text","font":"DejaVu Sans","fontSize":8.5,"align":"right","baseline":"alphabetic","color":"#333333"},
 "encoding":{"x":{"datum":1421.5},"y":{"datum":-3.855},"text":{"field":"label"}}}
]
}
